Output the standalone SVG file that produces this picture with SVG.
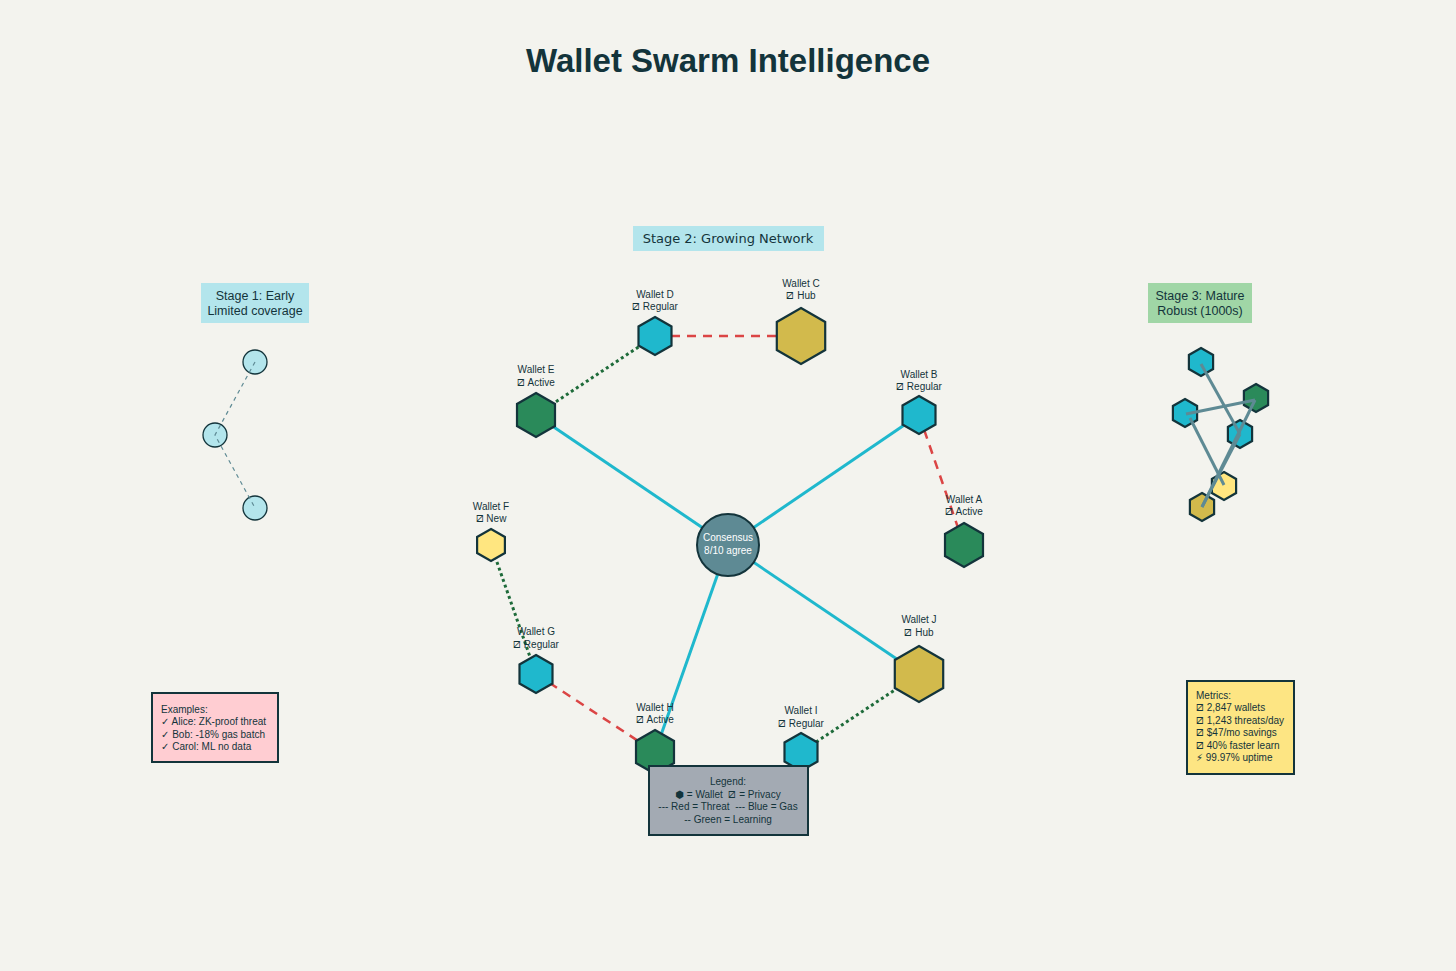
<svg xmlns="http://www.w3.org/2000/svg" width="1456" height="971" viewBox="0 0 1456 971">
<style>
text{font-family:"Liberation Sans","DejaVu Sans",sans-serif;fill:#13343b}
.lbl{font-size:10px;text-anchor:middle}
.p{font-family:"DejaVu Sans",sans-serif;font-size:11.5px}
.hex{stroke:#13343b;stroke-width:2.2}
.cy{fill:#1fb8cd}.go{fill:#d2ba4c}.gr{fill:#2a8a5a}.ye{fill:#ffe680}
.solid{stroke:#1fb8cd;stroke-width:3;fill:none}
.red{stroke:#db4545;stroke-width:2.5;stroke-dasharray:9,7;fill:none}
.grn{stroke:#1e6b3a;stroke-width:3;stroke-dasharray:3,3;fill:none}
.s1{stroke:#5e8a94;stroke-width:1.2;stroke-dasharray:4,4;fill:none}
.s3{stroke:#5e8a94;stroke-width:3;fill:none}
.box{stroke:#13343b;stroke-width:2}
.small{font-size:10px}
</style>
<rect width="1456" height="971" fill="#f3f3ee"/>
<text x="728" y="72" text-anchor="middle" font-size="33" font-weight="bold">Wallet Swarm Intelligence</text>

<g id="stage1">
  <rect x="201" y="283" width="108" height="40" fill="#b3e5ec"/>
  <text x="255" y="300" text-anchor="middle" font-size="12.5">Stage 1: Early</text>
  <text x="255" y="315" text-anchor="middle" font-size="12.5">Limited coverage</text>
  <circle cx="255" cy="362" r="12" fill="#b3e5ec" stroke="#13343b" stroke-width="1.3"/>
  <circle cx="215" cy="435" r="12" fill="#b3e5ec" stroke="#13343b" stroke-width="1.3"/>
  <circle cx="255" cy="508" r="12" fill="#b3e5ec" stroke="#13343b" stroke-width="1.3"/>
  <path class="s1" d="M255,362 L215,435 L255,508"/>
</g>

<g id="stage2-label">
  <rect x="633" y="226" width="191" height="25" fill="#b3e5ec"/>
  <text x="728" y="243" text-anchor="middle" font-size="13" style="font-family:'DejaVu Sans',sans-serif">Stage 2: Growing Network</text>
</g>

<g id="connectors">
  <line class="solid" x1="728" y1="545" x2="536" y2="415"/>
  <line class="solid" x1="728" y1="545" x2="919" y2="415"/>
  <line class="solid" x1="728" y1="545" x2="919" y2="674"/>
  <line class="solid" x1="728" y1="545" x2="655" y2="752"/>
  <line class="red" x1="671" y1="336" x2="777" y2="336"/>
  <line class="red" x1="919" y1="415" x2="964" y2="545"/>
  <line class="red" x1="536" y1="674" x2="655" y2="752"/>
  <line class="grn" x1="536" y1="415" x2="655" y2="336"/>
  <line class="grn" x1="491" y1="545" x2="536" y2="674"/>
  <line class="grn" x1="801" y1="752" x2="919" y2="674"/>
</g>

<g id="consensus">
  <circle cx="728" cy="545" r="31" fill="#5e8a94" stroke="#13343b" stroke-width="2"/>
  <text x="728" y="541" text-anchor="middle" font-size="10" style="fill:#fff">Consensus</text>
  <text x="728" y="554" text-anchor="middle" font-size="10" style="fill:#fff">8/10 agree</text>
</g>

<g id="walletA">
  <polygon class="hex gr" points="964,523 983,534 983,556 964,567 945,556 945,534"/>
  <text class="lbl" x="964" y="503">Wallet A</text><text class="lbl" x="964" y="515"><tspan class="p">⧄</tspan> Active</text>
</g>
<g id="walletB">
  <polygon class="hex cy" points="919,396 935.5,405.5 935.5,424.5 919,434 902.5,424.5 902.5,405.5"/>
  <text class="lbl" x="919" y="378">Wallet B</text><text class="lbl" x="919" y="390"><tspan class="p">⧄</tspan> Regular</text>
</g>
<g id="walletC">
  <polygon class="hex go" points="801,308 825.2,322 825.2,350 801,364 776.8,350 776.8,322"/>
  <text class="lbl" x="801" y="287">Wallet C</text><text class="lbl" x="801" y="299"><tspan class="p">⧄</tspan> Hub</text>
</g>
<g id="walletD">
  <polygon class="hex cy" points="655,317 671.5,326.5 671.5,345.5 655,355 638.5,345.5 638.5,326.5"/>
  <text class="lbl" x="655" y="298">Wallet D</text><text class="lbl" x="655" y="310"><tspan class="p">⧄</tspan> Regular</text>
</g>
<g id="walletE">
  <polygon class="hex gr" points="536,393 555,404 555,426 536,437 517,426 517,404"/>
  <text class="lbl" x="536" y="373">Wallet E</text><text class="lbl" x="536" y="386"><tspan class="p">⧄</tspan> Active</text>
</g>
<g id="walletF">
  <polygon class="hex ye" points="491,529 504.9,537 504.9,553 491,561 477.1,553 477.1,537"/>
  <text class="lbl" x="491" y="510">Wallet F</text><text class="lbl" x="491" y="522"><tspan class="p">⧄</tspan> New</text>
</g>
<g id="walletG">
  <polygon class="hex cy" points="536,655 552.5,664.5 552.5,683.5 536,693 519.5,683.5 519.5,664.5"/>
  <text class="lbl" x="536" y="635">Wallet G</text><text class="lbl" x="536" y="648"><tspan class="p">⧄</tspan> Regular</text>
</g>
<g id="walletH">
  <polygon class="hex gr" points="655,730 674,741 674,763 655,774 636,763 636,741"/>
  <text class="lbl" x="655" y="711">Wallet H</text><text class="lbl" x="655" y="723"><tspan class="p">⧄</tspan> Active</text>
</g>
<g id="walletI">
  <polygon class="hex cy" points="801,733 817.5,742.5 817.5,761.5 801,771 784.5,761.5 784.5,742.5"/>
  <text class="lbl" x="801" y="714">Wallet I</text><text class="lbl" x="801" y="727"><tspan class="p">⧄</tspan> Regular</text>
</g>
<g id="walletJ">
  <polygon class="hex go" points="919,646 943.2,660 943.2,688 919,702 894.8,688 894.8,660"/>
  <text class="lbl" x="919" y="623">Wallet J</text><text class="lbl" x="919" y="636"><tspan class="p">⧄</tspan> Hub</text>
</g>

<g id="stage3">
  <rect x="1148" y="283" width="104" height="40" fill="#a0d6a6"/>
  <text x="1200" y="300" text-anchor="middle" font-size="12.5">Stage 3: Mature</text>
  <text x="1200" y="315" text-anchor="middle" font-size="12.5">Robust (1000s)</text>
  <polygon class="hex cy" points="1201,348 1213.1,355 1213.1,369 1201,376 1188.9,369 1188.9,355"/>
  <polygon class="hex gr" points="1256,384 1268.1,391 1268.1,405 1256,412 1243.9,405 1243.9,391"/>
  <polygon class="hex cy" points="1185,399 1197.1,406 1197.1,420 1185,427 1172.9,420 1172.9,406"/>
  <polygon class="hex cy" points="1240,420 1252.1,427 1252.1,441 1240,448 1227.9,441 1227.9,427"/>
  <polygon class="hex ye" points="1224,472 1236.1,479 1236.1,493 1224,500 1211.9,493 1211.9,479"/>
  <polygon class="hex go" points="1202,493 1214.1,500 1214.1,514 1202,521 1189.9,514 1189.9,500"/>
  <line class="s3" x1="1201" y1="364" x2="1240" y2="434"/>
  <line class="s3" x1="1186" y1="414" x2="1255" y2="400"/>
  <line class="s3" x1="1190" y1="418" x2="1224" y2="485"/>
  <line class="s3" x1="1255" y1="400" x2="1202" y2="507"/>
  <line class="s3" x1="1240" y1="434" x2="1202" y2="507"/>
</g>

<g id="examples">
  <rect class="box" x="152" y="693" width="126" height="69" fill="#ffcdd2"/>
  <text class="small" x="161" y="713">Examples:</text>
  <text class="small" x="161" y="725">✓ Alice: ZK-proof threat</text>
  <text class="small" x="161" y="738">✓ Bob: -18% gas batch</text>
  <text class="small" x="161" y="750">✓ Carol: ML no data</text>
</g>

<g id="metrics">
  <rect class="box" x="1187" y="681" width="107" height="93" fill="#fde583"/>
  <text class="small" x="1196" y="699">Metrics:</text>
  <text class="small" x="1196" y="711"><tspan class="p">⧄</tspan> 2,847 wallets</text>
  <text class="small" x="1196" y="724"><tspan class="p">⧄</tspan> 1,243 threats/day</text>
  <text class="small" x="1196" y="736"><tspan class="p">⧄</tspan> $47/mo savings</text>
  <text class="small" x="1196" y="749"><tspan class="p">⧄</tspan> 40% faster learn</text>
  <text class="small" x="1196" y="761">⚡ 99.97% uptime</text>
</g>

<g id="legend">
  <rect class="box" x="649" y="766" width="159" height="69" fill="#a3aab3"/>
  <text class="lbl" x="728" y="785">Legend:</text>
  <text class="lbl" x="728" y="798">⬢ = Wallet&#160; <tspan class="p">⧄</tspan> = Privacy</text>
  <text class="lbl" x="728" y="810">--- Red = Threat&#160; --- Blue = Gas</text>
  <text class="lbl" x="728" y="823">-- Green = Learning</text>
</g>
</svg>
